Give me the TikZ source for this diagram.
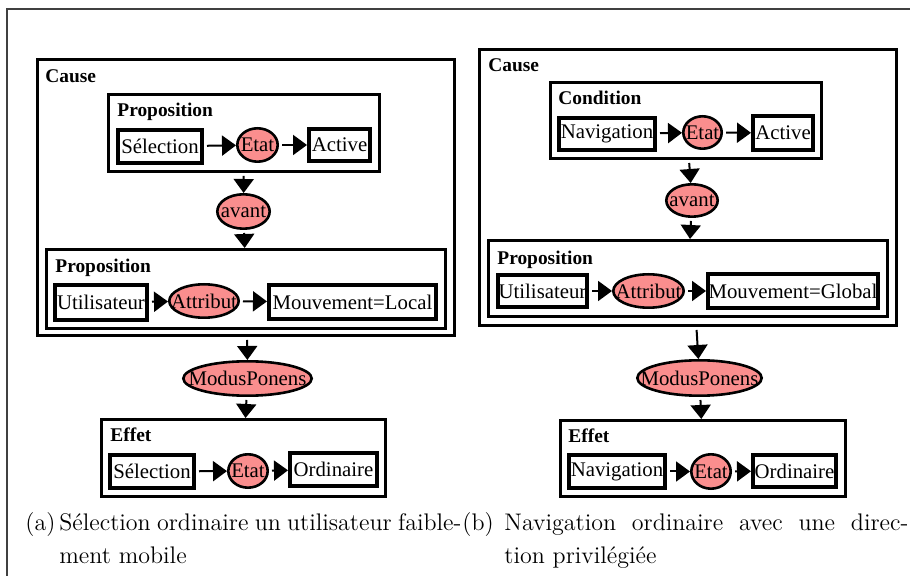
\documentclass[tikz,border=0pt]{standalone}
\usepackage{fontspec}
\usepackage{tikz}
\usetikzlibrary{shapes.geometric, arrows.meta, positioning}
\newfontfamily\diafont{Liberation Serif}
\definecolor{ovalpink}{RGB}{250,142,142}

\begin{document}
\begin{tikzpicture}[x=0.5pt, y=-0.5pt,
  frm/.style 2 args={draw, line width=1.5pt, inner sep=0pt,
                     minimum width=#1pt, minimum height=#2pt},
  txt/.style 2 args={draw, line width=2.2pt, fill=white, inner sep=0pt,
                     minimum width=#1pt, minimum height=#2pt,
                     font=\diafont\fontsize{10.4}{12}\selectfont},
  oval/.style 2 args={ellipse, draw, line width=1.3pt, fill=ovalpink, inner sep=0pt,
                      minimum width=#1pt, minimum height=#2pt,
                      font=\diafont\fontsize{10.4}{12}\selectfont},
  ttl/.style={anchor=base west, inner sep=0pt,
              font=\diafont\bfseries\fontsize{9.7}{11}\selectfont},
  capt/.style={anchor=base west, inner sep=0pt, font=\fontsize{12}{16.5}\selectfont},
  arr/.style={-{Triangle[length=7pt,width=10pt]}, line width=1pt, shorten <=1.5pt}
]
\useasboundingbox (0,0) rectangle (910,576);
\draw[line width=0.7pt, black!75] (910,9) -- (7,9) -- (7,576);

% (a) left diagram
\node[frm={208.5}{138}] (causeA) at (246,197.5) {};
\node[ttl] (causeAt) at (45,83) {Cause};
\node[frm={135.5}{38.5}] (propA) at (244,133) {};
\node[ttl] (propAt) at (117,117) {Proposition};
\node[txt={41.8}{16.3}] (selA) at (160,146.5) {Sélection};
\node[oval={20.2}{16.7}] (etatA) at (257.5,145) {\makebox[0pt]{Etat}};
\node[txt={30.3}{15.8}] (actA) at (339.5,145) {Active};
\node[oval={26.2}{17.2}] (avantA) at (243.5,211.5) {\makebox[0pt]{avant}};
\node[frm={199.5}{39.5}] (propA2) at (246,289) {};
\node[ttl] (propA2t) at (55,273) {Proposition};
\node[txt={45.8}{17.3}] (utilA) at (101,302.5) {Utilisateur};
\node[oval={34.7}{16.7}] (attrA) at (204,301) {\makebox[0pt]{Attribut}};
\node[txt={83.3}{16.8}] (mouvA) at (352.5,302) {Mouvement=Local};
\node[oval={64.2}{17.2}] (mpA) at (247.5,378.5) {\makebox[0pt]{ModusPonens}};
\node[frm={142}{38.5}] (effA) at (243.5,458) {};
\node[ttl] (effAt) at (110,442) {Effet};
\node[txt={41.8}{16.3}] (selA2) at (152,471.5) {Sélection};
\node[oval={19.7}{16.7}] (etatA2) at (248,471) {\makebox[0pt]{Etat}};
\node[txt={43.3}{16.3}] (ordA) at (333.5,469.5) {Ordinaire};

\draw[arr] (selA) -- (etatA);
\draw[arr] (etatA) -- (actA);
\draw[arr] (propA) -- (avantA);
\draw[arr] (avantA) -- (propA2);
\draw[arr] (utilA) -- (attrA);
\draw[arr] (attrA) -- (mouvA);
\draw[arr] (causeA) -- (mpA);
\draw[arr] (mpA) -- (effA);
\draw[arr] (selA2) -- (etatA2);
\draw[arr] (etatA2) -- (ordA);

% (b) right diagram
\node[frm={208.5}{138}] (causeB) at (688,187.5) {};
\node[ttl] (causeBt) at (488,72) {Cause};
\node[frm={135.5}{38}] (condB) at (686,120.5) {};
\node[ttl] (condBt) at (558,105) {Condition};
\node[txt={47.8}{15.8}] (navB) at (607,134) {Navigation};
\node[oval={19.2}{16.2}] (etatB) at (702.5,132.5) {\makebox[0pt]{Etat}};
\node[txt={29.8}{16.8}] (actB) at (783,133) {Active};
\node[oval={25.7}{16.2}] (avantB) at (692,200.5) {\makebox[0pt]{avant}};
\node[frm={199.5}{38}] (propB) at (688,278.5) {};
\node[ttl] (propBt) at (497,265) {Proposition};
\node[txt={44.3}{15.8}] (utilB) at (542.5,291) {Utilisateur};
\node[oval={35.2}{16.7}] (attrB) at (648.5,291) {\makebox[0pt]{Attribut}};
\node[txt={84.8}{16.8}] (mouvB) at (793,291) {Mouvement=Global};
\node[oval={62.2}{17.7}] (mpB) at (699.5,378) {\makebox[0pt]{ModusPonens}};
\node[frm={142.5}{38}] (effB) at (703,458.5) {};
\node[ttl] (effBt) at (568,443) {Effet};
\node[txt={47.8}{16.3}] (navB2) at (617,471.5) {Navigation};
\node[oval={19.7}{17.2}] (etatB2) at (711,471.5) {\makebox[0pt]{Etat}};
\node[txt={41.3}{15.8}] (ordB) at (794.5,471) {Ordinaire};

\draw[arr] (navB) -- (etatB);
\draw[arr] (etatB) -- (actB);
\draw[arr] (condB) -- (avantB);
\draw[arr] (avantB) -- (propB);
\draw[arr] (utilB) -- (attrB);
\draw[arr] (attrB) -- (mouvB);
\draw[arr] (causeB) -- (mpB);
\draw[arr] (mpB) -- (effB);
\draw[arr] (navB2) -- (etatB2);
\draw[arr] (etatB2) -- (ordB);

% captions
\node[capt] (capAl) at (25,531) {(a)};
\node[capt] (capA1) at (59,531) {\makebox[201pt][s]{Sélection ordinaire un utilisateur faible-}};
\node[capt] (capA2) at (59,564) {ment mobile};
\node[capt] (capBl) at (462,531) {(b)};
\node[capt] (capB1) at (504,531) {\makebox[202pt][s]{Navigation ordinaire avec une direc-}};
\node[capt] (capB2) at (504,564) {tion privilégiée};
\end{tikzpicture}
\end{document}
